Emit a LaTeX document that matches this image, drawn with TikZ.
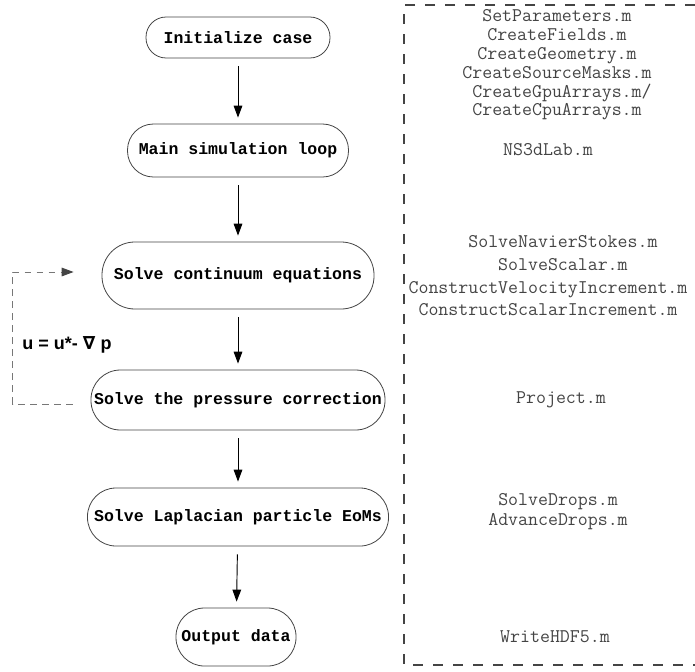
\documentclass[tikz,border=0pt]{standalone}
\usepackage{fontspec}
\setmainfont{Liberation Sans}
\newfontfamily\boxfont{Liberation Mono}
\newfontfamily\nablafont{DejaVu Sans}
\usetikzlibrary{arrows.meta,positioning,calc}
\definecolor{edgegray}{HTML}{444444}
\definecolor{filegray}{HTML}{444444}
\definecolor{loopgray}{HTML}{777777}
\tikzset{
  stadium/.style 2 args={draw=edgegray, line width=0.6pt, rectangle, inner sep=0pt,
    minimum width=#1, minimum height=#2, rounded corners=0.49*#2,
    font=\fontsize{12.4}{14}\selectfont\boxfont\bfseries},
  flow/.style={-{Triangle[length=9pt,width=6.5pt]}, line width=0.7pt,
    shorten <=6pt, shorten >=4.5pt},
  files/.style={align=center, text=filegray, inner sep=0pt,
    font=\fontsize{14.5}{14.1}\selectfont\ttfamily},
}
\begin{document}
\begin{tikzpicture}[x=0.75pt,y=-0.75pt]
    \useasboundingbox (0,0) rectangle (695,671);
    % flow chart
    \node[stadium={138pt}{30.75pt}] (init) at (238,37.5) {Initialize case};
    \node[stadium={165.75pt}{39.75pt}] (main) at (238,150.5) {Main simulation loop};
    \node[stadium={204pt}{50.25pt}] (cont) at (238,275.5) {Solve continuum equations};
    \node[stadium={220.5pt}{45pt}] (press) at (238,400) {Solve the pressure correction};
    \node[stadium={225.75pt}{43.5pt}] (lap) at (238,517) {Solve Laplacian particle EoMs};
    \node[stadium={90pt}{43.5pt}] (out) at (236,637) {Output data};

    \draw[flow] (init) -- (main);
    \draw[flow] (main) -- (cont);
    \draw[flow] (cont) -- (press);
    \draw[flow] (press) -- (lap);
    \draw[flow] (lap) -- (out);

    % pressure correction loop
    \draw[loopgray, line width=0.7pt, dash pattern=on 5pt off 4pt,
        -{Triangle[length=9pt,width=6.5pt,color=edgegray]}]
        ($(press.west)+(-18,4)$) -- ($(press.west)+(-78,4)$) |- ($(cont.west)+(-28,-3.5)$);
    \node[font=\fontsize{13.5}{15}\selectfont\bfseries] (proj) at (67,345) {u = u*- {\nablafont\bfseries ∇}~p};

    % matlab files
    \draw[edgegray, line width=1.1pt, dash pattern=on 7.5pt off 7.5pt]
        (695,5) -- (404,5) -- (404,665) -- (695,665);
    \node[files] (finit) at (557,65) {SetParameters.m\\CreateFields.m\\CreateGeometry.m\\
        CreateSourceMasks.m\\\ CreateGpuArrays.m/\\CreateCpuArrays.m};
    \node[files] (fmain) at (548,150) {NS3dLab.m};
    \node[files, font=\fontsize{14.5}{17}\selectfont\ttfamily] (fcont) at (548,276)
        {\ \ \ SolveNavierStokes.m\\\ \ \ SolveScalar.m\\ConstructVelocityIncrement.m\\
        ConstructScalarIncrement.m};
    \node[files] (fpress) at (561,400) {Project.m};
    \node[files, font=\fontsize{14.5}{15}\selectfont\ttfamily] (flap) at (558,512) {SolveDrops.m\\AdvanceDrops.m};
    \node[files] (fout) at (555,637) {WriteHDF5.m};
\end{tikzpicture}
\end{document}
